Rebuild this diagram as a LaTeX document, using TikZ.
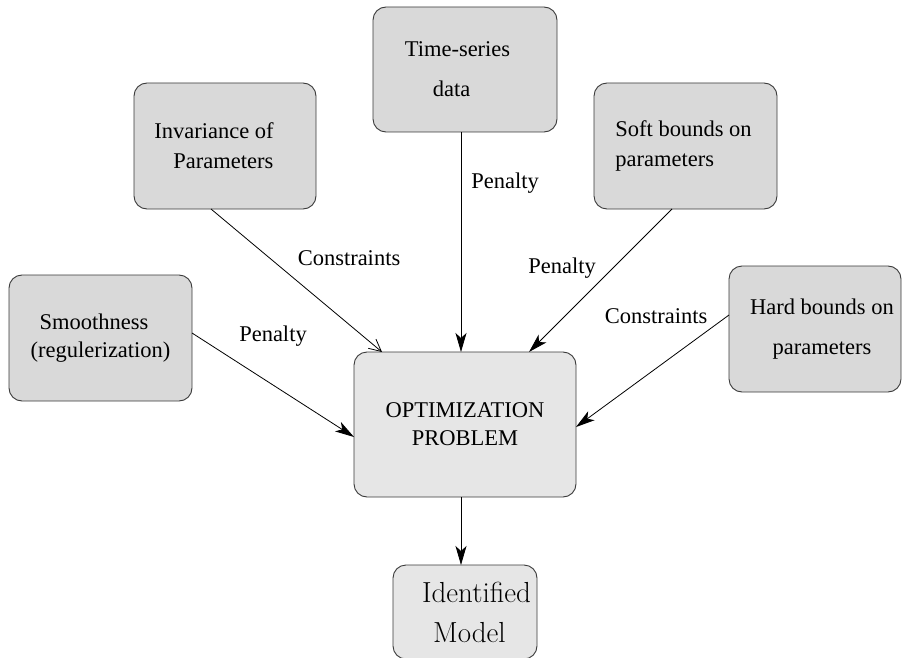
\documentclass[tikz,border=0pt]{standalone}
\usepackage{fontspec}
\newfontfamily\timesf{Liberation Serif}
\usetikzlibrary{arrows.meta}
\definecolor{boxfill}{HTML}{D9D9D9}
\definecolor{boxlight}{HTML}{E6E6E6}
\definecolor{boxline}{HTML}{3A3A3A}
\newcommand\gapx[1]{\rule{#1}{0pt}}
\begin{document}
\begin{tikzpicture}[x=1pt,y=-1pt,
  boxnode/.style={draw=boxline, line width=0.9pt, fill=boxfill, rounded corners=13pt,
    inner sep=0pt, outer sep=0pt, font=\timesf\fontsize{22.5}{30}\selectfont},
  lbl/.style={inner sep=0pt, font=\timesf\fontsize{22.5}{27}\selectfont},
  arr/.style={line width=0.8pt, -{Stealth[length=19pt,width=11pt,inset=5pt]}},
  openarr/.style={line width=0.8pt, -{Straight Barb[length=12pt,width=12pt]}}]
\useasboundingbox (0,0) rectangle (902,658);
\node[boxnode, minimum width=182pt, minimum height=126pt, align=left] (inv) at (225,146)
  {Invariance of\gapx{22pt}\\\gapx{19pt}Parameters};
\node[boxnode, minimum width=184pt, minimum height=125pt, align=left,
  font=\timesf\fontsize{22.5}{40}\selectfont] (ts) at (465,69.5)
  {Time-series\gapx{15pt}\\\gapx{28pt}data};
\node[boxnode, minimum width=183pt, minimum height=126pt, align=left] (sb) at (685.5,146)
  {Soft bounds on\gapx{4pt}\\parameters};
\node[boxnode, minimum width=183pt, minimum height=126pt, align=left,
  font=\timesf\fontsize{22.5}{28}\selectfont] (sm) at (100.5,338)
  {\gapx{9pt}Smoothness\\(regulerization)};
\node[boxnode, minimum width=172pt, minimum height=126pt, align=center,
  font=\timesf\fontsize{22.5}{40}\selectfont] (hb) at (815,329)
  {\gapx{14pt}Hard bounds on\\\gapx{14pt}parameters};
\node[boxnode, fill=boxlight, minimum width=222pt, minimum height=145pt, align=center,
  font=\timesf\fontsize{22.5}{28}\selectfont] (opt) at (465,424.5)
  {OPTIMIZATION\\PROBLEM};
\node[boxnode, fill=boxlight, minimum width=144pt, minimum height=94pt, align=left,
  font=\rmfamily\fontsize{29}{40}\selectfont] (id) at (465,612)
  {\gapx{23pt}Identified\\\gapx{34pt}Model};

\node[lbl] (l1) at (505,183) {Penalty};
\node[lbl] (l2) at (562,268) {Penalty};
\node[lbl] (l3) at (656,316) {Constraints};
\node[lbl] (l4) at (349,258) {Constraints};
\node[lbl] (l5) at (273,336) {Penalty};

\draw[openarr] ([xshift=-14pt]inv.south) -- ([xshift=-83pt]opt.north);
\draw[arr] ([xshift=-4pt]ts.south) -- ([xshift=-4pt]opt.north);
\draw[arr] ([xshift=-13.5pt]sb.south) -- ([xshift=64pt]opt.north);
\draw[arr] ([yshift=5pt]sm.east) -- ([yshift=-12.5pt]opt.west);
\draw[arr] ([yshift=14pt]hb.west) -- ([yshift=-2.5pt]opt.east);
\draw[arr] ([xshift=-4pt]opt.south) -- ([xshift=-4pt]id.north);
\end{tikzpicture}
\end{document}
